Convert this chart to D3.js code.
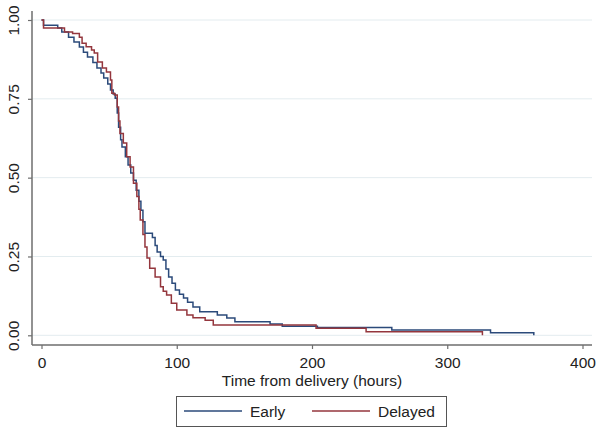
<!DOCTYPE html>
<html>
<head>
<meta charset="utf-8">
<script src="https://cdn.jsdelivr.net/npm/d3@7"></script>
<style>
  body { margin: 0; background: #fff; }
  svg text { font-family: "Liberation Sans", Arial, sans-serif; fill: #222; }
</style>
</head>
<body>
<svg class="km" width="603" height="433"></svg>
<script>
// Kaplan-Meier steps (hours, survival)
var earlyTime = [0, 1.5, 12, 15, 20, 24, 28, 31, 34, 38, 41, 44, 46, 49, 51, 53, 54.5, 56, 57, 58.5, 59.5, 62, 64, 66, 68, 70, 72, 73.5, 75, 76.5, 82, 84, 85.5, 88, 90, 92, 94, 96.5, 99, 102, 105, 108, 112, 117, 130, 137, 143, 169, 178, 204, 259, 332, 364];
var earlySurv = [1, 0.983, 0.975, 0.962, 0.945, 0.93, 0.914, 0.898, 0.883, 0.865, 0.848, 0.832, 0.816, 0.797, 0.778, 0.765, 0.752, 0.705, 0.66, 0.62, 0.597, 0.566, 0.54, 0.515, 0.492, 0.46, 0.425, 0.397, 0.36, 0.324, 0.31, 0.285, 0.264, 0.25, 0.239, 0.21, 0.185, 0.165, 0.144, 0.13, 0.118, 0.105, 0.09, 0.075, 0.064, 0.055, 0.043, 0.036, 0.029, 0.025, 0.017, 0.008, 0];

var delayedTime = [0, 1.5, 17, 23, 28, 30, 33, 37, 39, 41.5, 45, 48, 51, 52, 54, 56, 57, 58, 60.5, 63, 65.5, 68, 70.5, 72, 73, 75, 76.5, 78, 80, 84, 88, 90, 92.5, 96, 100, 107.5, 112, 121, 127, 203, 240, 326];
var delayedSurv = [1, 0.975, 0.962, 0.957, 0.945, 0.926, 0.915, 0.905, 0.895, 0.867, 0.848, 0.835, 0.81, 0.768, 0.762, 0.724, 0.68, 0.64, 0.61, 0.566, 0.534, 0.482, 0.44, 0.40, 0.366, 0.32, 0.28, 0.245, 0.213, 0.185, 0.154, 0.14, 0.128, 0.102, 0.08, 0.064, 0.056, 0.048, 0.033, 0.022, 0.011, 0];

var xTicks = [0, 100, 200, 300, 400];
var yTicks = [0, 0.25, 0.5, 0.75, 1];
var groupNames = ['Early', 'Delayed'];
var groupColors = ['#2b4a7a', '#94363d'];

var svg = d3.select('svg.km');

var x = d3.scaleLinear().domain([0, 400]).range([41.5, 582.5]);
var y = d3.scaleLinear().domain([0, 1]).range([335.3, 20]);

var plotLeft = 32, plotRight = 592, plotTop = 11, plotBottom = 345;
var fontSize = 15.5;

// gridlines
svg.append('g').selectAll('line')
  .data(yTicks)
  .enter().append('line')
  .attr('x1', plotLeft).attr('x2', plotRight)
  .attr('y1', function (d) { return y(d); })
  .attr('y2', function (d) { return y(d); })
  .attr('stroke', '#e3ecef')
  .attr('stroke-width', 1);

// axes
var xAxis = svg.append('g')
  .attr('transform', 'translate(0,' + plotBottom + ')')
  .call(d3.axisBottom(x).tickValues(xTicks).tickSize(4).tickPadding(4).tickFormat(d3.format('d')));
var yAxis = svg.append('g')
  .attr('transform', 'translate(' + plotLeft + ',0)')
  .call(d3.axisLeft(y).tickValues(yTicks).tickSize(4).tickPadding(0).tickFormat(d3.format('.2f')));

[xAxis, yAxis].forEach(function (g) {
  g.select('.domain').remove();
  g.selectAll('.tick line').attr('stroke', '#6e6e6e').attr('stroke-width', 1.2);
  g.selectAll('.tick text').attr('font-size', fontSize).attr('fill', '#222');
});

xAxis.selectAll('.tick text').attr('y', 23).attr('dy', 0);
yAxis.selectAll('.tick text')
  .attr('text-anchor', 'middle')
  .attr('x', 0).attr('dy', 0)
  .attr('transform', 'translate(-13.5,0) rotate(-90)');

svg.append('line')
  .attr('x1', plotLeft).attr('x2', plotRight)
  .attr('y1', plotBottom).attr('y2', plotBottom)
  .attr('stroke', '#6e6e6e').attr('stroke-width', 1.5);
svg.append('line')
  .attr('x1', plotLeft).attr('x2', plotLeft)
  .attr('y1', plotTop).attr('y2', plotBottom)
  .attr('stroke', '#6e6e6e').attr('stroke-width', 1.5);

// curves
var step = d3.line()
  .x(function (d) { return x(d[0]); })
  .y(function (d) { return y(d[1]); })
  .curve(d3.curveStepAfter);

var series = [
  d3.zip(earlyTime, earlySurv),
  d3.zip(delayedTime, delayedSurv)
];

svg.append('g').selectAll('path')
  .data(series)
  .enter().append('path')
  .attr('d', step)
  .attr('fill', 'none')
  .attr('stroke', function (d, i) { return groupColors[i]; })
  .attr('stroke-width', 1.5);

// x title
svg.append('text')
  .attr('x', (plotLeft + plotRight) / 2)
  .attr('y', 386)
  .attr('text-anchor', 'middle')
  .attr('font-size', fontSize)
  .text('Time from delivery (hours)');

// legend
var legend = svg.append('g');
legend.append('rect')
  .attr('x', 176.5).attr('y', 396.5)
  .attr('width', 270).attr('height', 30)
  .attr('fill', '#fff')
  .attr('stroke', '#555').attr('stroke-width', 1);

var legendX = [184, 312];
groupNames.forEach(function (name, i) {
  legend.append('line')
    .attr('x1', legendX[i]).attr('x2', legendX[i] + 58)
    .attr('y1', 411).attr('y2', 411)
    .attr('stroke', groupColors[i]).attr('stroke-width', 1.5);
  legend.append('text')
    .attr('x', legendX[i] + 66)
    .attr('y', 416.5)
    .attr('font-size', fontSize)
    .text(name);
});
</script>
</body>
</html>
